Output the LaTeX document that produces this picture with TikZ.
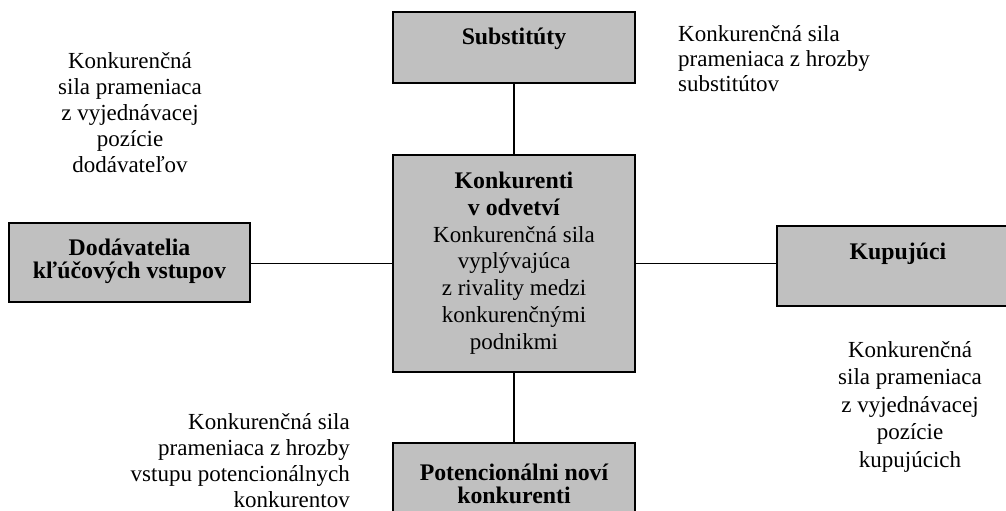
\documentclass[tikz,border=0pt]{standalone}
\usepackage{fontspec}
\setmainfont{Liberation Serif}
\definecolor{boxgray}{HTML}{C0C0C0}
\tikzset{
  box/.style={draw=black, fill=boxgray, line width=1.8pt, inner sep=0pt},
  conn/.style={draw=black, line width=1.6pt},
  btxt/.style={inner sep=0pt, align=center, font=\fontsize{23.8}{23}\selectfont\bfseries, anchor=base},
  ntxt/.style={inner sep=0pt, font=\fontsize{23}{26}\selectfont, anchor=base},
}
\begin{document}
\begin{tikzpicture}[x=1pt,y=-1pt]
\useasboundingbox (0,0) rectangle (1006,511);
\clip (0,0) rectangle (1006,511);
\fill[white] (0,0) rectangle (1006,511);
% boxes
\node[box, minimum width=242pt, minimum height=71pt] (sub) at (514,47.5) {};
\node[box, minimum width=242pt, minimum height=217pt] (mid) at (514,263.5) {};
\node[box, minimum width=241pt, minimum height=79pt] (dod) at (129.5,262.5) {};
\node[box, minimum width=243pt, minimum height=80pt] (kup) at (898.5,266) {};
\node[box, minimum width=242pt, minimum height=90pt] (pot) at (514,488) {};
% connectors
\draw[conn] (sub.south) -- (mid.north);
\draw[conn] (mid.south) -- (pot.north);
\draw[conn] (dod.east |- mid.west) -- (mid.west);
\draw[conn] (mid.east) -- (kup.west |- mid.east);
% box texts (base = baseline of last line)
\node[btxt] (subt) at (514,45) {Substitúty};
\node[btxt] (kupt) at (898,259) {Kupujúci};
\node[btxt] (dodt) at (129.5,278) {Dodávatelia\\kľúčových vstupov};
\node[btxt] (pott) at (514,503) {Potencionálni noví\\konkurenti};
\node[ntxt, align=center, font=\fontsize{23}{26.7}\selectfont] (midt) at (514,349) {\textbf{\fontsize{23.8}{26.7}\selectfont Konkurenti}\\\textbf{\fontsize{23.8}{26.7}\selectfont v odvetví}\\Konkurenčná sila\\vyplývajúca\\z rivality medzi\\konkurenčnými\\podnikmi};
% free texts
\node[ntxt, align=center] (tl) at (130,172) {Konkurenčná\\sila prameniaca\\z vyjednávacej\\pozície\\dodávateľov};
\node[ntxt, align=left, anchor=base west, font=\fontsize{23}{25}\selectfont] (tr) at (678,92) {Konkurenčná sila\\prameniaca z hrozby\\substitútov};
\node[ntxt, align=center, font=\fontsize{23}{27.5}\selectfont] (br) at (910,467) {Konkurenčná\\sila prameniaca\\z vyjednávacej\\pozície\\kupujúcich};
\node[ntxt, align=right, anchor=base east] (bl) at (350,507) {Konkurenčná sila\\prameniaca z hrozby\\vstupu potencionálnych\\konkurentov};
\end{tikzpicture}
\end{document}
